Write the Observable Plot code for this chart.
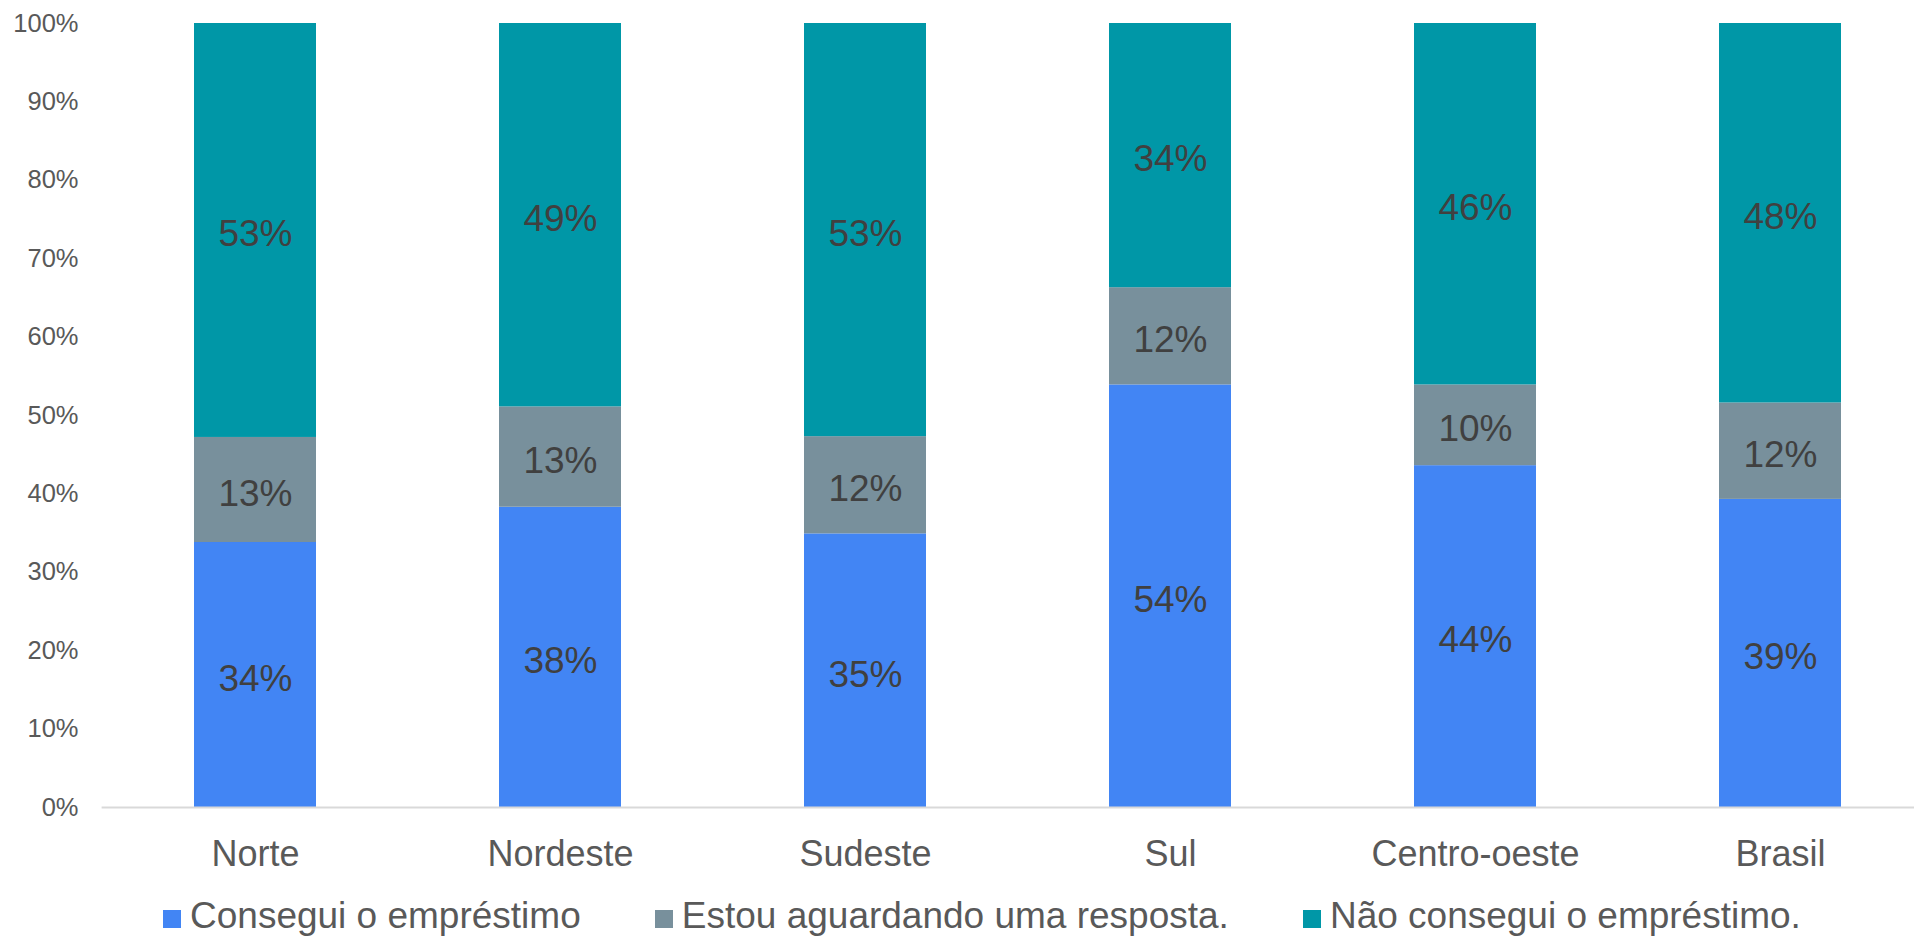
<!DOCTYPE html>
<html><head><meta charset="utf-8">
<script src="https://cdn.jsdelivr.net/npm/d3@7"></script>
<script src="https://cdn.jsdelivr.net/npm/@observablehq/plot@0.6"></script>
<style>
body{margin:0;background:#fff;font-family:"Liberation Sans",Arial,sans-serif;overflow:hidden}
#wrap{position:relative;width:1914px;height:937px}
#legend{position:absolute;left:163px;top:896px;display:flex;align-items:center;height:40px;font-size:37px;color:#595959;white-space:nowrap}
.item{display:flex;align-items:center;margin-right:74px}
.sw{width:18px;height:18px;margin-right:9px;position:relative;top:3px}
</style></head><body><div id="wrap"><div id="chart"></div><div id="legend"></div></div>
<script>
const regions = ["Norte", "Nordeste", "Sudeste", "Sul", "Centro-oeste", "Brasil"];
const seriesNames = ["Consegui o empréstimo", "Estou aguardando uma resposta.", "Não consegui o empréstimo."];
const seriesColors = ["#4285F4", "#78909C", "#0097A7"];
const conseguiu = [33.8, 38.3, 34.9, 53.9, 43.6, 39.3];
const aguardando = [13.4, 12.8, 12.4, 12.4, 10.3, 12.3];
const naoConseguiu = [52.8, 48.9, 52.7, 33.7, 46.1, 48.4];
const yTicks = [0, 0.1, 0.2, 0.3, 0.4, 0.5, 0.6, 0.7, 0.8, 0.9, 1];

const seriesValues = [conseguiu, aguardando, naoConseguiu];
const rows = [];
regions.forEach((r, i) => {
  seriesValues.forEach((arr, j) => rows.push({region: r, series: seriesNames[j], value: arr[i] / 100}));
});
const pct = d3.format(".0%");

const chart = Plot.plot({
  width: 1914, height: 880,
  marginTop: 23, marginBottom: 73, marginLeft: 101.6, marginRight: 0,
  style: {fontFamily: "'Liberation Sans', Arial, sans-serif", background: "white"},
  x: {domain: regions, range: [101.6, 1933.1], paddingInner: 0.6, paddingOuter: 0.3, align: 0.5},
  y: {domain: [0, 1]},
  color: {domain: seriesNames, range: seriesColors},
  marks: [
    Plot.barY(rows, Plot.stackY({x: "region", y: "value", fill: "series"})),
    Plot.text(rows, Plot.stackY({x: "region", y: "value", z: "series", text: d => pct(d.value), fill: "#404040", fontSize: 37, dy: 4})),
    Plot.ruleY([0], {stroke: "#D9D9D9", strokeWidth: 2}),
    Plot.axisY({ticks: yTicks, tickFormat: pct, tickSize: 0, tickPadding: 23.6, fontSize: 25.5, color: "#595959", label: null}),
    Plot.axisX({tickSize: 0, tickPadding: 33, fontSize: 36, color: "#595959", label: null})
  ]
});
document.getElementById("chart").appendChild(chart);

const legend = document.getElementById("legend");
seriesNames.forEach((name, j) => {
  const item = document.createElement("div");
  item.className = "item";
  const sw = document.createElement("span");
  sw.className = "sw";
  sw.style.background = seriesColors[j];
  const t = document.createElement("span");
  t.textContent = name;
  item.appendChild(sw); item.appendChild(t);
  legend.appendChild(item);
});
</script></body></html>
